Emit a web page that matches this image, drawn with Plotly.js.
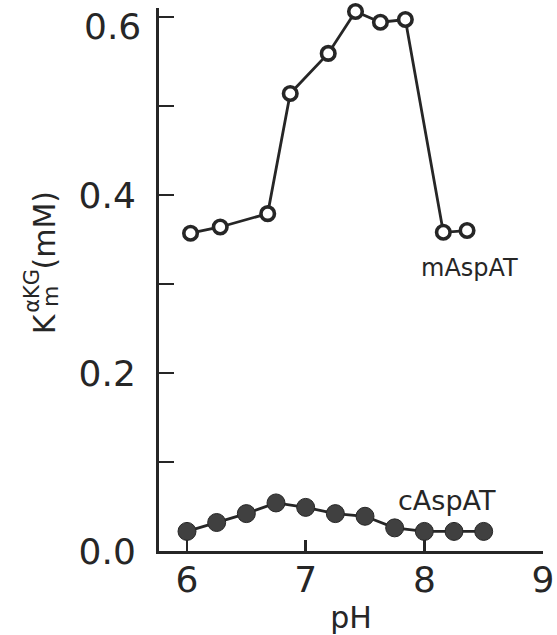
<!DOCTYPE html>
<html>
<head>
<meta charset="utf-8">
<script src="https://cdn.plot.ly/plotly-3.0.1.min.js"></script>
<style>html,body{margin:0;padding:0;background:#fff;}#chart{width:557px;height:635px;}</style>
</head>
<body>
<div id="chart"></div>
<script>
// mAspAT (open circles)
const mAspAT_pH = [6.03, 6.28, 6.68, 6.87, 7.19, 7.42, 7.63, 7.84, 8.16, 8.36];
const mAspAT_Km = [0.357, 0.364, 0.379, 0.514, 0.559, 0.606, 0.594, 0.597, 0.358, 0.360];
// cAspAT (filled circles)
const cAspAT_pH = [6.0, 6.25, 6.5, 6.75, 7.0, 7.25, 7.5, 7.75, 8.0, 8.25, 8.5];
const cAspAT_Km = [0.022, 0.032, 0.042, 0.054, 0.049, 0.042, 0.039, 0.026, 0.022, 0.022, 0.022];
// axis ticks
const xTickVals = [6, 7, 8, 9];
const xTickText = ["6", "7", "8", "9"];
const yTickVals = [0, 0.1, 0.2, 0.3, 0.4, 0.5, 0.6];
const yTickText = ["0.0", "", "0.2", "", "0.4", "", "0.6"];

const ink = '#262626';
const font = 'DejaVu Sans, sans-serif';

// the top label sits a little below its tick in the reference (paper edge), so it is drawn as an annotation
const lastIdx = yTickVals.length - 1;
const yTickTextAxis = yTickText.map((t, i) => i === lastIdx ? '' : t);

const traces = [
  {
    x: mAspAT_pH, y: mAspAT_Km, name: 'mAspAT', type: 'scatter', mode: 'lines+markers',
    line: {color: ink, width: 2.8},
    marker: {symbol: 'circle', size: 13.5, color: '#ffffff', line: {color: ink, width: 3.6}},
    cliponaxis: false, showlegend: false
  },
  {
    x: cAspAT_pH, y: cAspAT_Km, name: 'cAspAT', type: 'scatter', mode: 'lines+markers',
    line: {color: ink, width: 2.8},
    marker: {symbol: 'circle', size: 18, color: '#404040', line: {color: ink, width: 1}},
    cliponaxis: false, showlegend: false
  }
];

const layout = {
  width: 557, height: 635,
  margin: {l: 159, r: 14, t: 8, b: 84, pad: 0},
  paper_bgcolor: '#ffffff', plot_bgcolor: '#ffffff',
  font: {family: font, color: ink},
  showlegend: false,
  xaxis: {
    range: [5.764, 9.0],
    tickvals: xTickVals, ticktext: xTickText,
    ticks: 'inside', ticklen: 11, tickwidth: 2.5, tickcolor: ink,
    showline: true, linecolor: ink, linewidth: 3,
    showgrid: false, zeroline: false,
    tickfont: {family: font, size: 36, color: ink},
    ticklabelstandoff: -5,
    ticklabeloverflow: 'allow',
    title: {text: 'pH', font: {family: font, size: 30, color: ink}, standoff: 8}
  },
  yaxis: {
    range: [0, 0.61],
    tickvals: yTickVals, ticktext: yTickTextAxis,
    ticks: 'inside', ticklen: 15, tickwidth: 2.5, tickcolor: ink,
    showline: true, linecolor: ink, linewidth: 3,
    showgrid: false, zeroline: false,
    tickfont: {family: font, size: 36, color: ink},
    ticklabelstandoff: 13,
    ticklabeloverflow: 'allow'
  },
  annotations: [
    {text: yTickText[lastIdx], xref: 'paper', yref: 'y', x: 0, y: yTickVals[lastIdx], xshift: -16, yshift: -10,
     xanchor: 'right', yanchor: 'middle', showarrow: false, font: {family: font, size: 36, color: ink}},
    {text: 'mAspAT', xref: 'x', yref: 'y', x: 8.384, y: 0.318, showarrow: false,
     xanchor: 'center', yanchor: 'middle', font: {family: font, size: 24, color: ink}},
    {text: 'cAspAT', xref: 'x', yref: 'y', x: 8.19, y: 0.057, showarrow: false,
     xanchor: 'center', yanchor: 'middle', font: {family: font, size: 27, color: ink}},
    {text: 'K', xref: 'paper', yref: 'paper', x: -0.2995, y: 0.4195, textangle: -90, showarrow: false,
     xanchor: 'center', yanchor: 'middle', font: {family: font, size: 30, color: ink}},
    {text: 'm', xref: 'paper', yref: 'paper', x: -0.281, y: 0.468, textangle: -90, showarrow: false,
     xanchor: 'center', yanchor: 'middle', font: {family: font, size: 22, color: ink}},
    {text: 'αKG', xref: 'paper', yref: 'paper', x: -0.331, y: 0.479, textangle: -90, showarrow: false,
     xanchor: 'center', yanchor: 'middle', font: {family: font, size: 21, color: ink}},
    {text: '(mM)', xref: 'paper', yref: 'paper', x: -0.297, y: 0.592, textangle: -90, showarrow: false,
     xanchor: 'center', yanchor: 'middle', font: {family: font, size: 30, color: ink}}
  ]
};

Plotly.newPlot('chart', traces, layout, {displayModeBar: false, staticPlot: true});
</script>
</body>
</html>
